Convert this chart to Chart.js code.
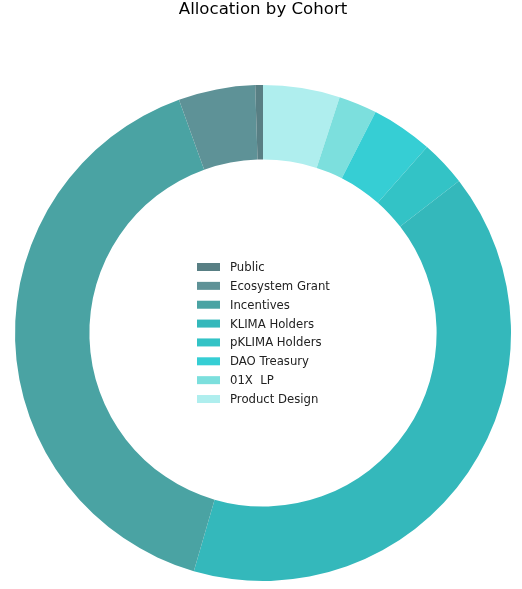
<!DOCTYPE html>
<html>
<head>
<meta charset="utf-8">
<script src="https://cdn.jsdelivr.net/npm/chart.js@4"></script>
<style>
html,body{margin:0;padding:0;background:#fff;}
canvas{display:block;}
</style>
</head>
<body>
<canvas id="c" width="522" height="589"></canvas>
<script>
const chartTitle = "Allocation by Cohort";
const categories = ["Public", "Ecosystem Grant", "Incentives", "KLIMA Holders", "pKLIMA Holders", "DAO Treasury", "01X  LP", "Product Design"];
const values = [0.5, 5, 40, 40, 3, 4, 2.5, 5];
const colors = ["#587f84", "#5e9297", "#4aa3a3", "#34b8bb", "#33c3c6", "#36ced4", "#7cdfdd", "#afeeee"];

// Reference wedges run counter-clockwise from the top; Chart.js draws clockwise,
// so feed the data reversed while keeping the legend in the original order.
const dsLabels = categories.slice().reverse();
const dsValues = values.slice().reverse();
const dsColors = colors.slice().reverse();

const overlay = {
  id: 'overlay',
  afterDraw(chart) {
    const ctx = chart.ctx;
    ctx.save();
    // title
    ctx.fillStyle = '#000';
    ctx.font = '16.6px "DejaVu Sans"';
    ctx.textAlign = 'center';
    ctx.textBaseline = 'middle';
    ctx.fillText(chartTitle, 263, 9.5);
    // legend in original order
    ctx.font = '11.7px "DejaVu Sans"';
    ctx.textAlign = 'left';
    const x0 = 197, y0 = 267, dy = 18.86;
    categories.forEach((lab, i) => {
      const y = y0 + i * dy;
      ctx.fillStyle = colors[i];
      ctx.fillRect(x0, y - 4, 23, 8);
      ctx.fillStyle = '#222';
      ctx.fillText(lab, 230, y + 1);
    });
    ctx.restore();
  }
};

new Chart(document.getElementById('c'), {
  type: 'doughnut',
  data: {
    labels: dsLabels,
    datasets: [{
      data: dsValues,
      backgroundColor: dsColors,
      borderWidth: 0,
      hoverOffset: 0
    }]
  },
  options: {
    responsive: false,
    animation: false,
    cutout: '70%',
    rotation: 0,
    layout: { padding: { left: 15, right: 11, top: 85, bottom: 8 } },
    plugins: {
      legend: { display: false },
      title: { display: false },
      tooltip: { enabled: false }
    }
  },
  plugins: [overlay]
});
</script>
</body>
</html>
